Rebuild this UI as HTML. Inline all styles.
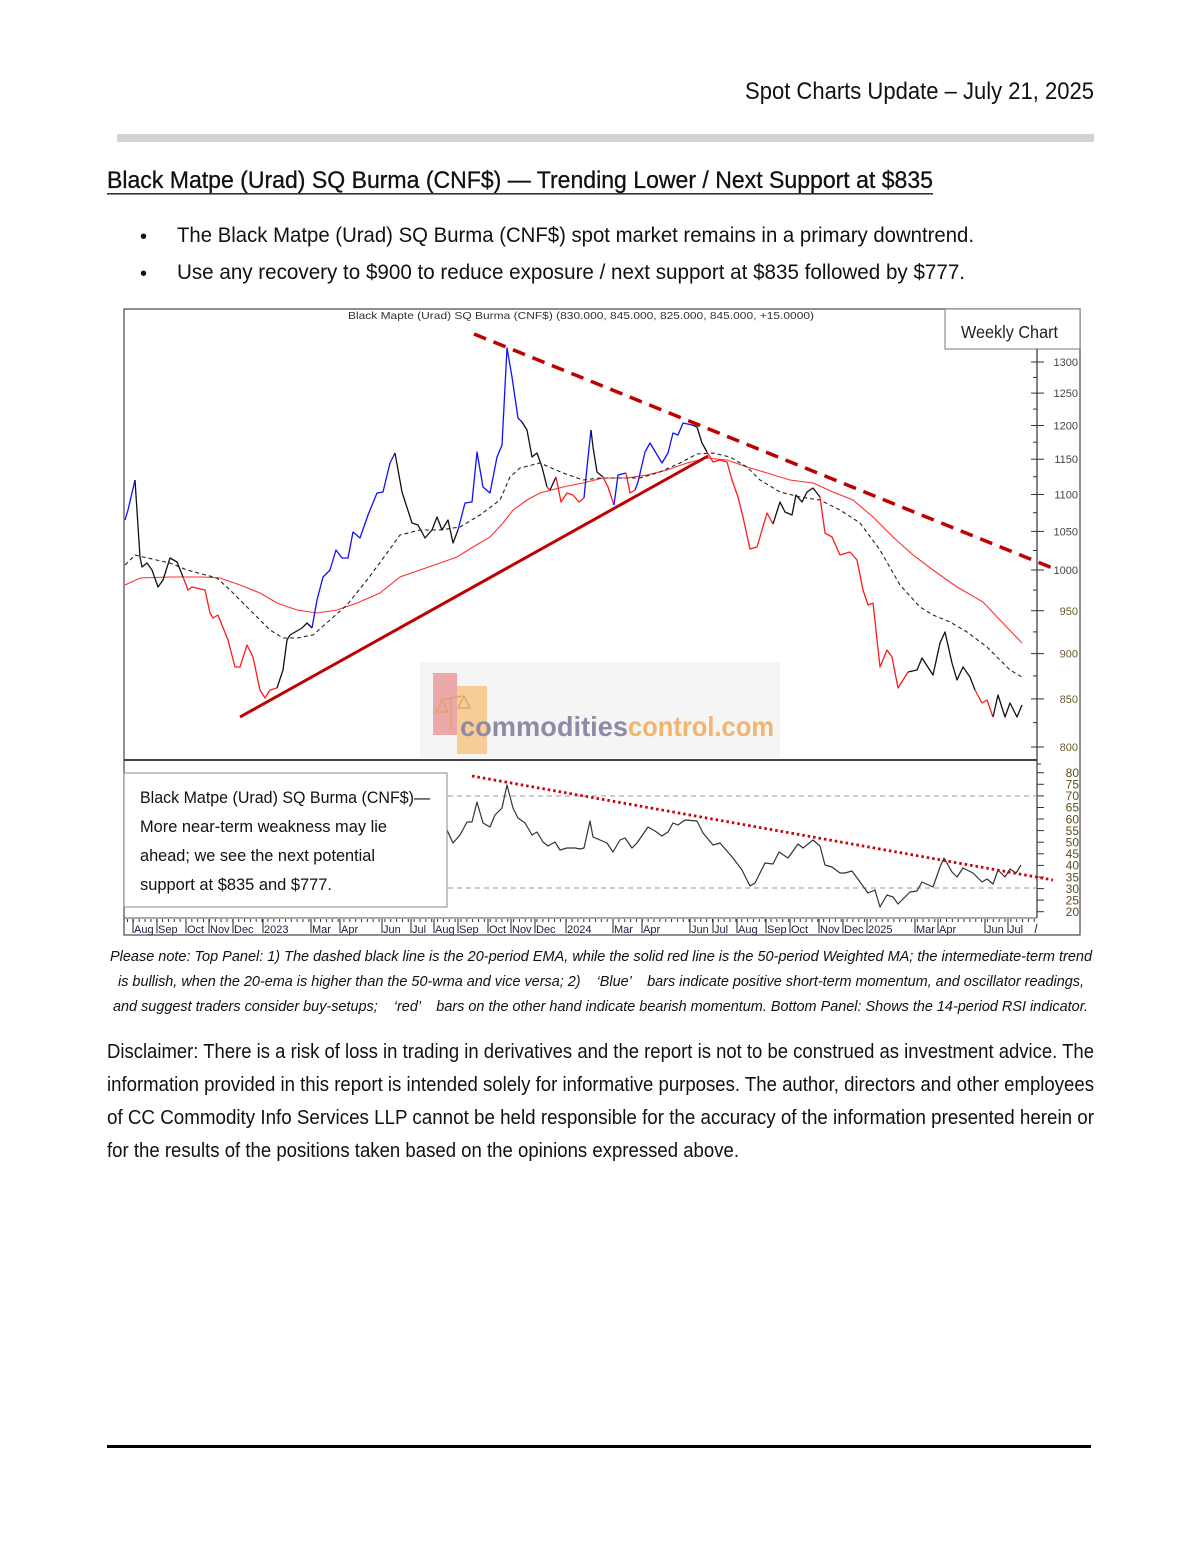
<!DOCTYPE html>
<html>
<head>
<meta charset="utf-8">
<style>
html,body{margin:0;padding:0;background:#fff;}
svg{display:block;}
text{font-family:"Liberation Sans",Arial,sans-serif;}
</style>
</head>
<body>
<svg width="1200" height="1553" viewBox="0 0 1200 1553" xmlns="http://www.w3.org/2000/svg">
<defs>
<pattern id="wk" x="127" y="0" width="5.85" height="10" patternUnits="userSpaceOnUse">
<rect x="0" y="0" width="1" height="10" fill="#333"/>
</pattern>
</defs>
<rect x="0" y="0" width="1200" height="1553" fill="#fff"/>

<!-- header -->
<text x="745" y="99" font-size="24.5" fill="#111" textLength="349" lengthAdjust="spacingAndGlyphs">Spot Charts Update – July 21, 2025</text>
<rect x="117" y="134" width="977" height="8" fill="#d3d3d3"/>

<text x="107" y="188" font-size="24.5" fill="#111" stroke="#111" stroke-width="0.3" textLength="826" lengthAdjust="spacingAndGlyphs">Black Matpe (Urad) SQ Burma (CNF$) — Trending Lower / Next Support at $835</text>
<rect x="107" y="193" width="826" height="1.6" fill="#333"/>

<text x="140" y="243" font-size="20" fill="#111">•</text>
<text x="177" y="242" font-size="21" fill="#111" textLength="797" lengthAdjust="spacingAndGlyphs">The Black Matpe (Urad) SQ Burma (CNF$) spot market remains in a primary downtrend.</text>
<text x="140" y="280" font-size="20" fill="#111">•</text>
<text x="177" y="279" font-size="21" fill="#111" textLength="788" lengthAdjust="spacingAndGlyphs">Use any recovery to $900 to reduce exposure / next support at $835 followed by $777.</text>

<!-- chart frame -->
<rect x="124" y="309" width="956" height="626" fill="#fff" stroke="#555" stroke-width="1.3"/>

<!-- watermark -->
<rect x="420" y="662" width="360" height="96" fill="#f5f5f5"/>
<rect x="433" y="673" width="24" height="62" fill="#e89a9a" opacity="0.85"/>
<rect x="457" y="686" width="30" height="68" fill="#f6c98c" opacity="0.9"/>
<g stroke="#e2a060" stroke-width="1.2" fill="none">
<line x1="440" y1="700" x2="462" y2="696"/>
<line x1="451" y1="698" x2="451" y2="730"/>
<path d="M436 712 L442 700 L448 712 Z"/>
<path d="M458 708 L464 696 L470 708 Z"/>
</g>
<text x="460" y="736" font-size="28" font-weight="bold" fill="#8f8aa6" textLength="168" lengthAdjust="spacingAndGlyphs">commodities</text>
<text x="628" y="736" font-size="28" font-weight="bold" fill="#f2b46e" textLength="146" lengthAdjust="spacingAndGlyphs">control.com</text>

<!-- chart title -->
<text x="348" y="319" font-size="10.5" fill="#333" textLength="466" lengthAdjust="spacingAndGlyphs">Black Mapte (Urad) SQ Burma (CNF$) (830.000, 845.000, 825.000, 845.000, +15.0000)</text>

<!-- weekly chart box -->
<rect x="945" y="309" width="135" height="40" fill="#fff" stroke="#777" stroke-width="1"/>
<text x="961" y="338" font-size="17.5" fill="#222" textLength="97" lengthAdjust="spacingAndGlyphs">Weekly Chart</text>

<!-- price axis -->
<line x1="1037" y1="349" x2="1037" y2="760" stroke="#333" stroke-width="1.2"/>
<g stroke="#333" stroke-width="1">
<line x1="1031" y1="362" x2="1044" y2="362"/>
<line x1="1031" y1="393.1" x2="1044" y2="393.1"/>
<line x1="1031" y1="425.5" x2="1044" y2="425.5"/>
<line x1="1031" y1="459.2" x2="1044" y2="459.2"/>
<line x1="1031" y1="494.5" x2="1044" y2="494.5"/>
<line x1="1031" y1="531.4" x2="1044" y2="531.4"/>
<line x1="1031" y1="570" x2="1044" y2="570"/>
<line x1="1031" y1="610.7" x2="1044" y2="610.7"/>
<line x1="1031" y1="653.6" x2="1044" y2="653.6"/>
<line x1="1031" y1="698.9" x2="1044" y2="698.9"/>
<line x1="1031" y1="747" x2="1044" y2="747"/>
<line x1="1033" y1="377.4" x2="1037" y2="377.4"/>
<line x1="1033" y1="409.1" x2="1037" y2="409.1"/>
<line x1="1033" y1="442.2" x2="1037" y2="442.2"/>
<line x1="1033" y1="476.7" x2="1037" y2="476.7"/>
<line x1="1033" y1="512.7" x2="1037" y2="512.7"/>
<line x1="1033" y1="550.5" x2="1037" y2="550.5"/>
<line x1="1033" y1="590.1" x2="1037" y2="590.1"/>
<line x1="1033" y1="631.9" x2="1037" y2="631.9"/>
<line x1="1033" y1="675.9" x2="1037" y2="675.9"/>
<line x1="1033" y1="722.6" x2="1037" y2="722.6"/>
</g>
<g font-size="11" fill="#444" text-anchor="end">
<text x="1078" y="366">1300</text>
<text x="1078" y="397">1250</text>
<text x="1078" y="429.5">1200</text>
<text x="1078" y="463">1150</text>
<text x="1078" y="498.5">1100</text>
<text x="1078" y="535.5">1050</text>
<text x="1078" y="574">1000</text>
<text x="1078" y="615" fill="#6b5a30">950</text>
<text x="1078" y="657.5" fill="#6b5a30">900</text>
<text x="1078" y="703" fill="#6b5a30">850</text>
<text x="1078" y="751" fill="#6b5a30">800</text>
</g>

<!-- WMA red -->
<polyline fill="none" stroke="#ff3030" stroke-width="1.1" points="125,585 140,578 170,577 203,577 220,578 240,585 260,593 277,603 297,610 317,613 337,610 357,603 380,593 400,577 420,570 440,563 457,557 473,547 490,537 503,523 513,510 527,500 540,493 563,487 583,483 603,478 627,478 647,475 667,470 687,463 707,458 727,460 747,467 767,473 790,480 813,483 833,492 853,500 873,517 893,537 913,555 933,570 957,587 983,602 1000,620 1022,643"/>
<!-- EMA dashed -->
<polyline fill="none" stroke="#222" stroke-width="1.1" stroke-dasharray="4,3" points="125,565 135,555 143,557 170,563 187,570 217,578 230,590 253,613 270,630 283,638 297,638 313,635 330,620 347,605 367,580 387,553 400,535 420,530 440,530 460,527 480,515 500,500 510,477 520,468 540,463 563,473 583,480 600,478 620,478 640,478 660,472 680,463 697,454 713,453 730,457 747,467 760,480 780,492 800,497 820,500 840,510 860,523 880,550 900,585 920,607 933,615 950,622 967,632 987,647 1010,670 1022,677"/>

<!-- support trendline -->
<line x1="240" y1="717" x2="708" y2="456" stroke="#c00000" stroke-width="3"/>

<!-- price series -->
<g fill="none" stroke-width="1.3" stroke-linejoin="round">
<polyline stroke="#1010ff" points="125,520 128,510 135,480"/>
<polyline stroke="#111" points="135,480 140,557 142,567 147,563 152,570 158,587 163,580 170,558 177,562 183,577"/>
<polyline stroke="#ff1a1a" points="183,577 188,590 192,587 205,590 210,613 213,618 218,615 228,640 235,667 240,667 247,645 253,657 260,690 265,698 270,690 277,688"/>
<polyline stroke="#111" points="277,688 283,670 287,640 290,635 302,628 307,623 312,628"/>
<polyline stroke="#1010ff" points="312,628 317,600 323,577 330,570 336,550 342,558 348,558 353,532 360,538 368,515 377,493 383,492 390,463 395,453"/>
<polyline stroke="#111" points="395,453 402,492 412,523 418,525 425,538 432,530 437,517 442,530 448,520 453,543 458,530"/>
<polyline stroke="#1010ff" points="458,530 465,503 472,502 477,452 483,487 490,493 497,457 502,445 507,348 512,377 518,418 522,422"/>
<polyline stroke="#111" points="522,422 527,430 532,457 537,453 542,467 547,487"/>
<polyline stroke="#ff1a1a" points="547,487 550,490"/>
<polyline stroke="#111" points="550,490 556,477"/>
<polyline stroke="#ff1a1a" points="556,477 561,502 567,493 573,495 579,502 584,498"/>
<polyline stroke="#1010ff" points="584,498 587,467 591,430"/>
<polyline stroke="#111" points="591,430 593,447 597,472 603,477"/>
<polyline stroke="#ff1a1a" points="603,477 608,487 614,505"/>
<polyline stroke="#1010ff" points="614,505 618,475 626,473"/>
<polyline stroke="#ff1a1a" points="626,473 630,493 635,490"/>
<polyline stroke="#1010ff" points="635,490 638,482 645,452 650,443 662,463 668,453 673,433 678,435 683,423 692,425"/>
<polyline stroke="#111" points="692,425 697,427 702,443 707,452"/>
<polyline stroke="#ff1a1a" points="707,452 713,462 720,460 727,462 732,480 738,497 743,517 750,549 757,547 762,530 767,513 773,524"/>
<polyline stroke="#111" points="773,524 780,502 785,512 792,515 796,495 802,502 807,492 813,488 820,497"/>
<polyline stroke="#ff1a1a" points="820,497 825,533 832,537 840,555 850,552 857,560 863,590 868,605 873,603 880,667 887,650 892,657 898,688 908,672"/>
<polyline stroke="#111" points="908,672 917,670 922,658 933,675 940,643 945,632 952,663 957,680 963,667 970,677 975,690"/>
<polyline stroke="#ff1a1a" points="975,690 982,703 987,700 993,717"/>
<polyline stroke="#111" points="993,717 998,695 1005,717 1010,703 1017,717 1022,705"/>
</g>

<!-- resistance dashed -->
<line x1="474" y1="334" x2="1055" y2="569" stroke="#c00000" stroke-width="3.5" stroke-dasharray="13,8"/>

<!-- panel separator -->
<line x1="124" y1="760" x2="1037" y2="760" stroke="#444" stroke-width="2"/>

<!-- RSI panel -->
<line x1="1037" y1="760" x2="1037" y2="918" stroke="#333" stroke-width="1.2"/>
<line x1="124" y1="918" x2="1037" y2="918" stroke="#555" stroke-width="1"/>
<g stroke="#333" stroke-width="1">
<line x1="1037" y1="772.7" x2="1044" y2="772.7"/>
<line x1="1037" y1="784.3" x2="1044" y2="784.3"/>
<line x1="1037" y1="795.9" x2="1044" y2="795.9"/>
<line x1="1037" y1="807.5" x2="1044" y2="807.5"/>
<line x1="1037" y1="819" x2="1044" y2="819"/>
<line x1="1037" y1="830.6" x2="1044" y2="830.6"/>
<line x1="1037" y1="842.2" x2="1044" y2="842.2"/>
<line x1="1037" y1="853.8" x2="1044" y2="853.8"/>
<line x1="1037" y1="865.4" x2="1044" y2="865.4"/>
<line x1="1037" y1="877" x2="1044" y2="877"/>
<line x1="1037" y1="888.6" x2="1044" y2="888.6"/>
<line x1="1037" y1="900.1" x2="1044" y2="900.1"/>
<line x1="1037" y1="911.7" x2="1044" y2="911.7"/>
<line x1="1037" y1="764" x2="1041" y2="764"/>
</g>
<g font-size="12" fill="#5c4a1e" text-anchor="end">
<text x="1079" y="776.9">80</text>
<text x="1079" y="788.5">75</text>
<text x="1079" y="800.1">70</text>
<text x="1079" y="811.7">65</text>
<text x="1079" y="823.3">60</text>
<text x="1079" y="834.9">55</text>
<text x="1079" y="846.5">50</text>
<text x="1079" y="858.1">45</text>
<text x="1079" y="869.7">40</text>
<text x="1079" y="881.3">35</text>
<text x="1079" y="892.9">30</text>
<text x="1079" y="904.5">25</text>
<text x="1079" y="916">20</text>
</g>
<line x1="448" y1="796" x2="1037" y2="796" stroke="#999" stroke-width="1" stroke-dasharray="5,4"/>
<line x1="448" y1="888" x2="1037" y2="888" stroke="#999" stroke-width="1" stroke-dasharray="5,4"/>
<polyline fill="none" stroke="#333" stroke-width="1.2" stroke-linejoin="round" points="447,830 453,843 460,835 467,822 472,822 477,802 483,823 490,827 495,815 502,808 507,785 513,808 518,818 525,823 532,835 537,832 543,842 548,846 555,842 560,850 567,848 575,848 580,849 584,848 590,821 593,837 600,840 607,843 613,852 620,840 625,838 632,848 637,843 648,827 655,831 662,836 668,832 673,823 678,825 685,820 697,821 703,833 713,845 720,843 733,858 742,870 750,886 755,883 765,863 773,864 779,852 788,858 798,844 803,848 813,840 820,846 825,865 832,867 840,873 845,873 852,871 860,882 868,893 875,890 880,907 887,895 893,897 898,904 910,892 917,891 922,882 933,887 940,867 944,858 952,872 957,877 963,868 973,873 982,882 987,879 993,884 998,870 1005,877 1010,869 1016,873 1021,865"/>
<line x1="472" y1="776" x2="1053" y2="880" stroke="#cc0000" stroke-width="2.8" stroke-dasharray="2.5,3"/>

<!-- RSI text box -->
<rect x="124" y="773" width="323" height="134" fill="#fff" stroke="#888" stroke-width="1"/>
<g font-size="17" fill="#111">
<text x="140" y="803" textLength="290" lengthAdjust="spacingAndGlyphs">Black Matpe (Urad) SQ Burma (CNF$)—</text>
<text x="140" y="832" textLength="247" lengthAdjust="spacingAndGlyphs">More near-term weakness may lie</text>
<text x="140" y="861" textLength="235" lengthAdjust="spacingAndGlyphs">ahead; we see the next potential</text>
<text x="140" y="890" textLength="192" lengthAdjust="spacingAndGlyphs">support at $835 and $777.</text>
</g>

<!-- bottom time axis -->
<rect x="127" y="919" width="908" height="3" fill="url(#wk)"/>
<g stroke="#222" stroke-width="1">
<line x1="133" y1="919" x2="133" y2="933"/>
<line x1="157" y1="919" x2="157" y2="933"/>
<line x1="186" y1="919" x2="186" y2="933"/>
<line x1="209" y1="919" x2="209" y2="933"/>
<line x1="233" y1="919" x2="233" y2="933"/>
<line x1="263" y1="919" x2="263" y2="933"/>
<line x1="311" y1="919" x2="311" y2="933"/>
<line x1="340" y1="919" x2="340" y2="933"/>
<line x1="382" y1="919" x2="382" y2="933"/>
<line x1="411" y1="919" x2="411" y2="933"/>
<line x1="434" y1="919" x2="434" y2="933"/>
<line x1="458" y1="919" x2="458" y2="933"/>
<line x1="488" y1="919" x2="488" y2="933"/>
<line x1="511" y1="919" x2="511" y2="933"/>
<line x1="535" y1="919" x2="535" y2="933"/>
<line x1="566" y1="919" x2="566" y2="933"/>
<line x1="613" y1="919" x2="613" y2="933"/>
<line x1="642" y1="919" x2="642" y2="933"/>
<line x1="690" y1="919" x2="690" y2="933"/>
<line x1="713" y1="919" x2="713" y2="933"/>
<line x1="737" y1="919" x2="737" y2="933"/>
<line x1="766" y1="919" x2="766" y2="933"/>
<line x1="790" y1="919" x2="790" y2="933"/>
<line x1="819" y1="919" x2="819" y2="933"/>
<line x1="843" y1="919" x2="843" y2="933"/>
<line x1="867" y1="919" x2="867" y2="933"/>
<line x1="915" y1="919" x2="915" y2="933"/>
<line x1="938" y1="919" x2="938" y2="933"/>
<line x1="985" y1="919" x2="985" y2="933"/>
<line x1="1008" y1="919" x2="1008" y2="933"/>
<line x1="1035" y1="933" x2="1037" y2="924"/>
</g>
<g font-size="11" fill="#1c1c3c">
<text x="134" y="933">Aug</text>
<text x="158" y="933">Sep</text>
<text x="187" y="933">Oct</text>
<text x="210" y="933">Nov</text>
<text x="234" y="933">Dec</text>
<text x="264" y="933">2023</text>
<text x="312" y="933">Mar</text>
<text x="341" y="933">Apr</text>
<text x="383" y="933">Jun</text>
<text x="412" y="933">Jul</text>
<text x="435" y="933">Aug</text>
<text x="459" y="933">Sep</text>
<text x="489" y="933">Oct</text>
<text x="512" y="933">Nov</text>
<text x="536" y="933">Dec</text>
<text x="567" y="933">2024</text>
<text x="614" y="933">Mar</text>
<text x="643" y="933">Apr</text>
<text x="691" y="933">Jun</text>
<text x="714" y="933">Jul</text>
<text x="738" y="933">Aug</text>
<text x="767" y="933">Sep</text>
<text x="791" y="933">Oct</text>
<text x="820" y="933">Nov</text>
<text x="844" y="933">Dec</text>
<text x="868" y="933">2025</text>
<text x="916" y="933">Mar</text>
<text x="939" y="933">Apr</text>
<text x="986" y="933">Jun</text>
<text x="1009" y="933">Jul</text>
</g>

<!-- footnote -->
<g font-size="15" font-style="italic" fill="#111">
<text x="110" y="961" textLength="982" lengthAdjust="spacingAndGlyphs">Please note: Top Panel: 1) The dashed black line is the 20-period EMA, while the solid red line is the 50-period Weighted MA; the intermediate-term trend</text>
<text x="118" y="986" textLength="966" lengthAdjust="spacingAndGlyphs" xml:space="preserve">is bullish, when the 20-ema is higher than the 50-wma and vice versa; 2)    ‘Blue’    bars indicate positive short-term momentum, and oscillator readings,</text>
<text x="113" y="1011" textLength="975" lengthAdjust="spacingAndGlyphs" xml:space="preserve">and suggest traders consider buy-setups;    ‘red’    bars on the other hand indicate bearish momentum. Bottom Panel: Shows the 14-period RSI indicator.</text>
</g>

<!-- disclaimer -->
<g font-size="20" fill="#111">
<text x="107" y="1058" textLength="987" lengthAdjust="spacingAndGlyphs">Disclaimer: There is a risk of loss in trading in derivatives and the report is not to be construed as investment advice. The</text>
<text x="107" y="1091" textLength="987" lengthAdjust="spacingAndGlyphs">information provided in this report is intended solely for informative purposes. The author, directors and other employees</text>
<text x="107" y="1124" textLength="987" lengthAdjust="spacingAndGlyphs">of CC Commodity Info Services LLP cannot be held responsible for the accuracy of the information presented herein or</text>
<text x="107" y="1157" textLength="632" lengthAdjust="spacingAndGlyphs">for the results of the positions taken based on the opinions expressed above.</text>
</g>

<rect x="107" y="1445" width="984" height="3" fill="#000"/>
</svg>
</body>
</html>
